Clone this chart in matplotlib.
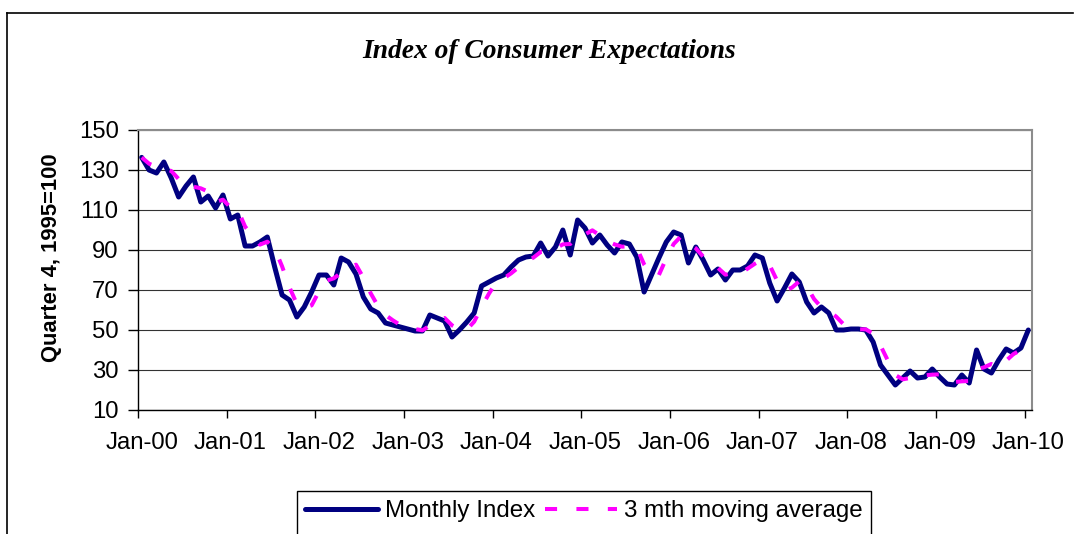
import matplotlib
matplotlib.use('Agg')
import matplotlib.pyplot as plt
import numpy as np
import pandas as pd
from matplotlib.lines import Line2D
from matplotlib.patches import Rectangle

# ---- data (monthly, Jan-2000 .. Jan-2010) ----
monthly_index = [
    136.3, 130.0, 128.5, 134.0, 126.0, 116.5, 122.0, 126.5, 114.0, 117.0, 111.0, 117.5,   # 2000
    105.5, 107.5, 92.0, 92.0, 94.0, 96.5, 81.5, 67.5, 65.0, 56.5, 61.5, 69.0,             # 2001
    77.5, 77.5, 72.5, 86.0, 84.0, 78.0, 66.5, 60.5, 58.5, 53.5, 52.5, 51.5,                # 2002
    50.5, 49.5, 49.5, 57.5, 56.0, 54.5, 46.5, 50.0, 54.0, 58.5, 72.0, 74.0,                # 2003
    76.0, 77.5, 81.5, 85.0, 86.5, 87.0, 93.5, 87.0, 91.5, 100.0, 87.5, 105.0,              # 2004
    101.0, 93.5, 97.5, 92.5, 88.5, 94.0, 93.0, 86.5, 69.0, 77.5, 86.0, 94.0,               # 2005
    99.0, 97.5, 83.5, 91.5, 85.0, 77.5, 80.5, 75.0, 80.0, 80.0, 82.0, 87.5,                # 2006
    86.0, 73.5, 64.5, 71.0, 78.0, 74.0, 64.0, 58.5, 61.5, 58.5, 50.0, 50.0,                # 2007
    50.5, 50.5, 50.0, 44.0, 32.5, 27.5, 22.5, 26.0, 29.5, 26.0, 26.5, 30.5,                # 2008
    26.5, 23.0, 22.5, 27.5, 23.5, 40.0, 30.5, 28.5, 35.0, 40.5, 38.5, 41.0,                # 2009
    50.0,                                                                                   # 2010
]
tick_labels = ['Jan-00', 'Jan-01', 'Jan-02', 'Jan-03', 'Jan-04', 'Jan-05',
               'Jan-06', 'Jan-07', 'Jan-08', 'Jan-09', 'Jan-10']
y_ticks = [10, 30, 50, 70, 90, 110, 130, 150]
ma_window = 3

title = 'Index of Consumer Expectations'
ylabel = 'Quarter 4, 1995=100'
series_names = ['Monthly Index', '3 mth moving average']

# ---- figure ----
W, H = 1078, 534
fig = plt.figure(figsize=(W / 100, H / 100), dpi=100)
fig.patch.set_facecolor('white')

SANS = ['Liberation Sans', 'DejaVu Sans']
SERIF = ['Liberation Serif', 'DejaVu Serif']

ax = fig.add_axes([138 / W, 1 - 410 / H, (1032 - 138) / W, (410 - 130) / H])

x = np.arange(len(monthly_index))
ma = pd.Series(monthly_index).rolling(ma_window, min_periods=1).mean().to_numpy()

ax.plot(x, monthly_index, color='#000080', lw=3.6, solid_joinstyle='round',
        solid_capstyle='round', zorder=3, label=series_names[0])
ax.plot(x, ma, color='#FF00FF', lw=2.9, dashes=(3.0, 4.8), dash_capstyle='butt',
        zorder=4, label=series_names[1])

ax.set_xlim(-0.5, len(monthly_index) - 0.5)
ax.set_ylim(y_ticks[0], y_ticks[-1])
ax.set_yticks(y_ticks)
ax.set_yticklabels([str(v) for v in y_ticks], family=SANS, fontsize=17.2)
ax.grid(axis='y', color='#333333', lw=0.8)
ax.set_axisbelow(True)

# tick marks between categories, labels on the category
major_pos = np.arange(len(tick_labels)) * 12 - 0.5
label_pos = np.arange(len(tick_labels)) * 12
ax.set_xticks(major_pos)
ax.set_xticklabels([])
ax.set_xticks(label_pos, minor=True)
ax.set_xticklabels(tick_labels, minor=True, family=SANS, fontsize=17.2)
ax.tick_params(axis='x', which='major', length=6, width=1, color='black', direction='out')
ax.tick_params(axis='x', which='minor', length=0, pad=16)
ax.tick_params(axis='y', length=7, width=1, color='black', direction='out', pad=7)

for s in ['left', 'bottom']:
    ax.spines[s].set_color('black')
    ax.spines[s].set_linewidth(1.0)
for s in ['top', 'right']:
    ax.spines[s].set_color('#8c8c8c')
    ax.spines[s].set_linewidth(1.5)

# title and y label
fig.text(548.7 / W, 1 - 51 / H, title, ha='center', va='center',
         family=SERIF, style='italic', weight='bold', fontsize=19.8)
fig.text(52 / W, 1 - 257.5 / H, ylabel, ha='center', va='center', rotation=90,
         family=SANS, weight='bold', fontsize=15.8)

# legend
handles, labels = ax.get_legend_handles_labels()
fig.legend(handles, labels, ncol=2, loc='center left',
           bbox_to_anchor=(305 / W, 1 - 511 / H), frameon=False,
           borderpad=0, borderaxespad=0, handlelength=3.0, handletextpad=0.3,
           columnspacing=0.4, prop={'family': SANS, 'size': 17.4})
fig.add_artist(Rectangle((297 / W, 1 - 545 / H), (871 - 297) / W, (545 - 491) / H,
                         transform=fig.transFigure, fill=False, edgecolor='black', lw=1.0))

# outer chart border (top and left visible)
fig.add_artist(Line2D([7 / W, 7 / W], [-0.01, 1 - 13 / H], transform=fig.transFigure,
                      color='black', lw=1.2))
fig.add_artist(Line2D([7 / W, 1073 / W], [1 - 13 / H, 1 - 13 / H], transform=fig.transFigure,
                      color='black', lw=1.2))

fig.savefig('out.png', dpi=100)
